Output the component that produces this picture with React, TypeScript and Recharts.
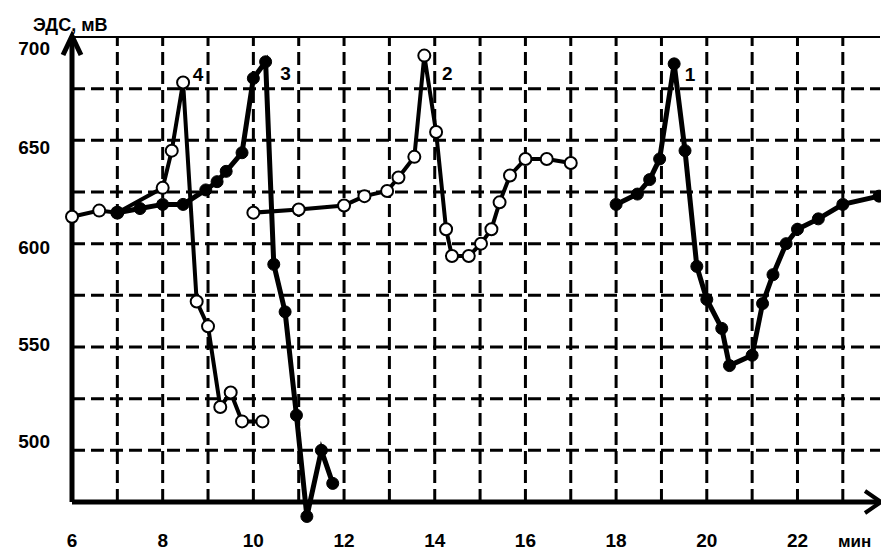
import { LineChart, Line, XAxis, YAxis, ReferenceLine, ReferenceDot } from 'recharts'

// time, min
const curve1X = [18.0, 18.47, 18.74, 18.96, 19.28, 19.52, 19.78, 20.0, 20.33, 20.5, 21.0, 21.23, 21.46, 21.75, 22.0, 22.46, 23.0, 23.8]
const curve1Y = [619, 624, 631, 641, 687, 645, 589, 573, 559, 541, 546, 571, 585, 600, 607, 612, 619, 623]

const curve2X = [10.0, 11.0, 12.0, 12.45, 12.95, 13.2, 13.55, 13.77, 14.03, 14.25, 14.38, 14.75, 15.02, 15.25, 15.43, 15.66, 16.0, 16.47, 17.0]
const curve2Y = [615, 616.5, 618.5, 623, 625.5, 632, 642, 691, 654, 607, 594, 594, 600, 607, 620, 633, 641, 641, 639]

const curve3X = [7.0, 7.5, 8.0, 8.45, 8.95, 9.2, 9.4, 9.75, 10.0, 10.27, 10.45, 10.7, 10.95, 11.18, 11.5, 11.75]
const curve3Y = [615, 617, 619, 619, 626, 630, 635, 644, 680, 688, 590, 567, 517, 468, 500, 484]

const curve4X = [6.0, 6.6, 7.0, 8.0, 8.2, 8.45, 8.75, 9.0, 9.27, 9.5, 9.75, 10.2]
const curve4Y = [613, 616, 615, 627, 645, 678, 572, 560, 521, 528, 514, 514]

const xTicks = [6, 8, 10, 12, 14, 16, 18, 20, 22]
const yTicks = [500, 550, 600, 650, 700]
const xGrid = [7, 8, 9, 10, 11, 12, 13, 14, 15, 16, 17, 18, 19, 20, 21, 22, 23]
const yGrid = [500, 525, 550, 575, 600, 625, 650, 675]

const X_MIN = 6
const X_MAX = 23.82
const Y_BASE = 475
const Y_TOP = 700

const font = 'Arial, "Liberation Sans", sans-serif'

const toPoints = (xs: number[], ys: number[]) => xs.map((x, i) => ({ x, y: ys[i] }))

// scanned labels sit a bit off their grid lines
const yLabelShift: Record<number, number> = { 700: 11, 650: 7, 600: 3, 550: -3, 500: -9 }

function XTick({ x, y, payload }: any) {
  return (
    <text x={x} y={y + 14} textAnchor="middle" fontFamily={font} fontWeight="bold" fontSize={19} fill="#000">
      {payload.value}
    </text>
  )
}

function YTick({ x, y, payload }: any) {
  return (
    <text x={x - 22} y={y + (yLabelShift[payload.value] ?? 0) + 7} textAnchor="end" fontFamily={font} fontWeight="bold" fontSize={19} fill="#000">
      {payload.value}
    </text>
  )
}

const peakLabel = (text: string, dx: number, dy: number) => (p: any) => (
  <text x={p.cx + dx} y={p.cy + dy} textAnchor="middle" fontFamily={font} fontWeight="bold" fontSize={19} fill="#000">
    {text}
  </text>
)

const upArrow = (p: any) => (
  <polyline points={`${p.cx - 9},${p.cy + 18} ${p.cx},${p.cy - 1} ${p.cx + 9},${p.cy + 18}`} fill="none" stroke="#000" strokeWidth={5} />
)

const rightArrow = (p: any) => (
  <polyline points={`${p.cx - 15},${p.cy - 11} ${p.cx + 1},${p.cy} ${p.cx - 15},${p.cy + 11}`} fill="none" stroke="#000" strokeWidth={4} />
)

const openDot = { r: 6, fill: '#fff', stroke: '#000', strokeWidth: 2, clipDot: false }
const filledDot = { r: 6, fill: '#000', stroke: '#000', strokeWidth: 1, clipDot: false }

export default function App() {
  return (
    <div style={{ position: 'relative', width: 881, height: 550, background: '#fff', overflow: 'hidden' }}>
      <style>{'body{margin:0}'}</style>
      <div style={{ position: 'absolute', left: 33, top: 16, fontFamily: font, fontWeight: 'bold', fontSize: 18, lineHeight: '18px' }}>
        ЭДС, мВ
      </div>
      <div style={{ position: 'absolute', left: 838, top: 533, fontFamily: font, fontWeight: 'bold', fontSize: 17, lineHeight: '17px' }}>
        мин
      </div>
      <LineChart width={881} height={550} margin={{ top: 37, right: 1, bottom: 0, left: 0 }}>
        <XAxis
          dataKey="x"
          type="number"
          domain={[X_MIN, X_MAX]}
          ticks={xTicks}
          interval={0}
          axisLine={false}
          tickLine={false}
          tickSize={0}
          tickMargin={0}
          height={17}
          tick={XTick}
        />
        <YAxis
          type="number"
          domain={[460, 700]}
          ticks={yTicks}
          interval={0}
          axisLine={false}
          tickLine={false}
          tickSize={0}
          tickMargin={0}
          width={72}
          tick={YTick}
        />
        {yGrid.map((v) => (
          <ReferenceLine key={'h' + v} y={v} stroke="#000" strokeWidth={3} strokeDasharray="13 6" />
        ))}
        {xGrid.map((v) => (
          <ReferenceLine
            key={'v' + v}
            segment={[{ x: v, y: Y_BASE }, { x: v, y: Y_TOP }]}
            stroke="#000"
            strokeWidth={3}
            strokeDasharray="13 6"
          />
        ))}
        <ReferenceLine y={Y_TOP} stroke="#000" strokeWidth={2} />
        <ReferenceLine y={Y_BASE} stroke="#000" strokeWidth={5} />
        <ReferenceLine segment={[{ x: X_MIN, y: Y_BASE }, { x: X_MIN, y: Y_TOP }]} stroke="#000" strokeWidth={5} />
        <ReferenceDot x={X_MIN} y={Y_TOP} ifOverflow="visible" shape={upArrow} />
        <ReferenceDot x={X_MAX} y={Y_BASE} ifOverflow="visible" shape={rightArrow} />

        <Line data={toPoints(curve4X, curve4Y)} dataKey="y" type="linear" stroke="#000" strokeWidth={4} dot={openDot} activeDot={false} isAnimationActive={false} />
        <Line data={toPoints(curve3X, curve3Y)} dataKey="y" type="linear" stroke="#000" strokeWidth={5} dot={filledDot} activeDot={false} isAnimationActive={false} />
        <Line data={toPoints(curve2X, curve2Y)} dataKey="y" type="linear" stroke="#000" strokeWidth={4} dot={openDot} activeDot={false} isAnimationActive={false} />
        <Line data={toPoints(curve1X, curve1Y)} dataKey="y" type="linear" stroke="#000" strokeWidth={5} dot={filledDot} activeDot={false} isAnimationActive={false} />

        <ReferenceDot x={curve4X[5]} y={curve4Y[5]} shape={peakLabel('4', 15, -1)} />
        <ReferenceDot x={curve3X[9]} y={curve3Y[9]} shape={peakLabel('3', 20, 18)} />
        <ReferenceDot x={curve2X[7]} y={curve2Y[7]} shape={peakLabel('2', 23, 24)} />
        <ReferenceDot x={curve1X[4]} y={curve1Y[4]} shape={peakLabel('1', 16, 17)} />
      </LineChart>
    </div>
  )
}
